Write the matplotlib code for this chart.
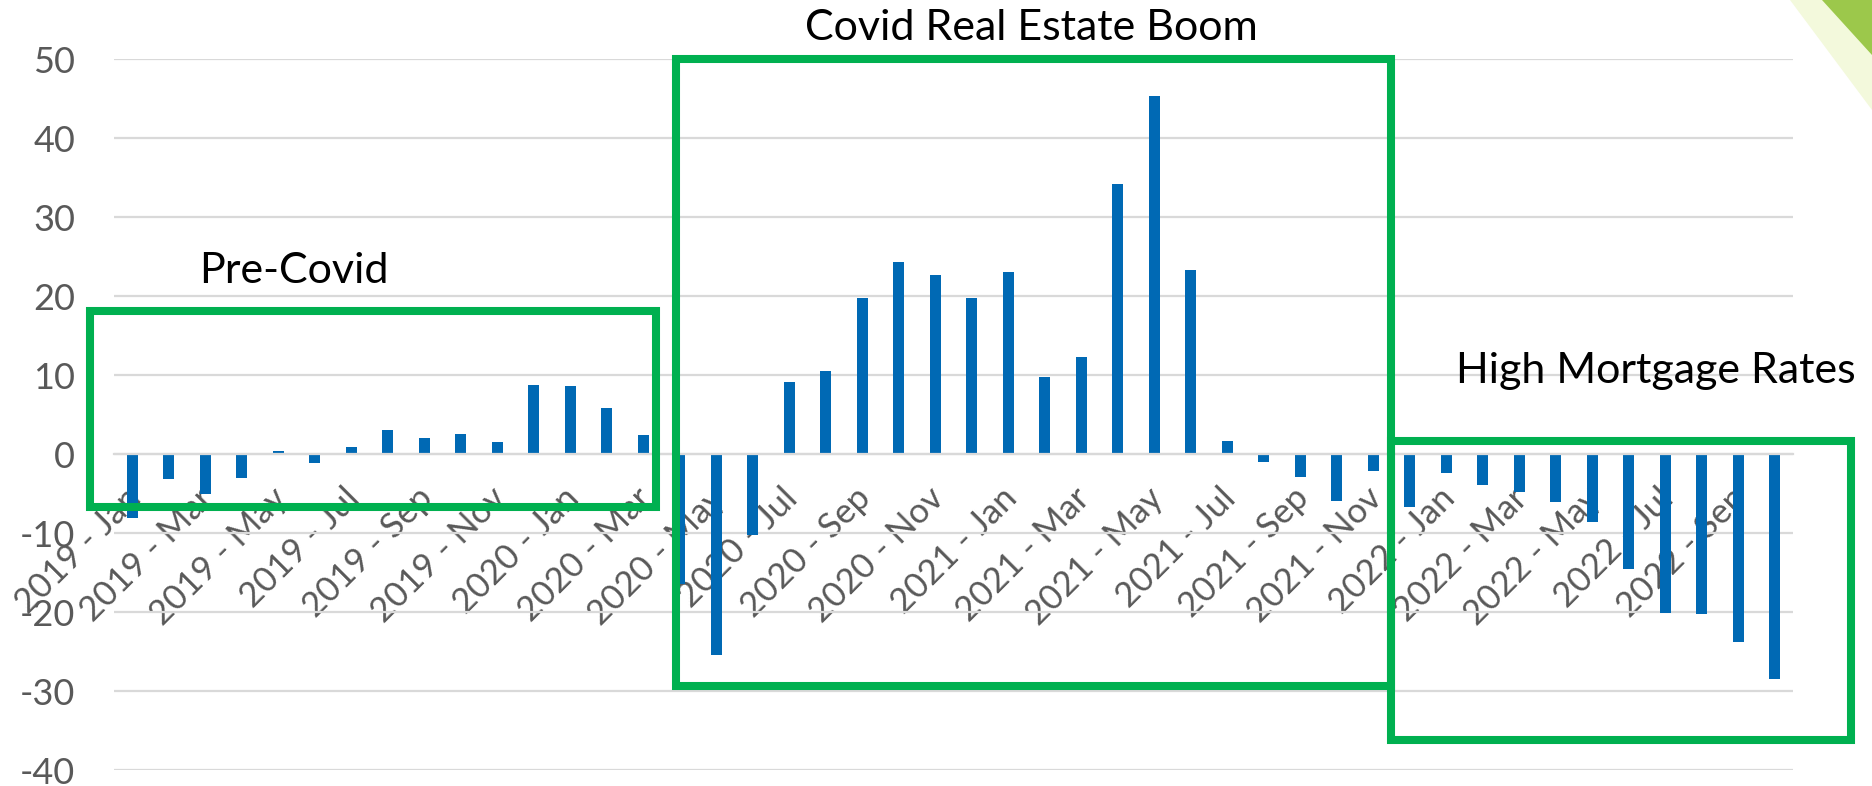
import matplotlib
matplotlib.use("Agg")
import matplotlib.pyplot as plt
import matplotlib.transforms as mtransforms
from matplotlib.patches import Rectangle, Polygon
import numpy as np

plt.rcParams['font.family'] = ['Lato', 'DejaVu Sans']
plt.rcParams['axes.unicode_minus'] = False

# month-over-month change, Jan 2019 .. Oct 2022
years = [2019] * 12 + [2020] * 12 + [2021] * 12 + [2022] * 10
month_names = ['Jan', 'Feb', 'Mar', 'Apr', 'May', 'Jun',
               'Jul', 'Aug', 'Sep', 'Oct', 'Nov', 'Dec']
months = (month_names * 4)[:46]
categories = [f'{y} - {m}' for y, m in zip(years, months)]

values = [-8.1, -3.2, -5.1, -3.0, 0.4, -1.1, 0.9, 3.0, 2.1, 2.5, 1.5, 8.8,
          8.6, 5.8, 2.4, -16.4, -25.5, -10.2, 9.1, 10.5, 19.8, 24.3, 22.7, 19.8,
          23.1, 9.8, 12.3, 34.2, 45.4, 23.3, 1.6, -1.0, -2.9, -5.9, -2.1, -6.7,
          -2.4, -3.9, -4.8, -6.0, -8.6, -14.5, -20.1, -20.3, -23.8, -28.5]

yticks = [50, 40, 30, 20, 10, 0, -10, -20, -30, -40]

# annotation boxes (x in category units, y in data units)
boxes = [(-1.15, -6.7, 14.34, 18.1),
         (14.89, -29.35, 34.49, 50.05),
         (34.49, -36.2, 47.1, 1.7)]
box_labels = [('Pre-Covid', 1.83, 21.7, 'left'),
              ('Covid Real Estate Boom', 24.63, 52.45, 'center'),
              ('High Mortgage Rates', 36.26, 8.95, 'left')]

fig = plt.figure(figsize=(18.72, 7.86), dpi=100)
ax = fig.add_axes([114 / 1872, 1 - 770 / 786, (1793 - 114) / 1872, (770 - 59.3) / 786])

x = np.arange(len(values))
ax.bar(x, values, width=0.3, color='#0069B4', zorder=2)

ax.set_xlim(-0.5, len(values) - 0.5)
ax.set_ylim(-40, 50)
ax.set_yticks(yticks)
ax.yaxis.grid(True, color='#d9d9d9', linewidth=1.6, zorder=0)
ax.set_axisbelow(True)
for s in ['top', 'right', 'left']:
    ax.spines[s].set_visible(False)
ax.spines['bottom'].set_position(('data', 0))
ax.spines['bottom'].set_color('#d9d9d9')
ax.spines['bottom'].set_linewidth(1.6)
ax.tick_params(axis='y', length=0, labelsize=26, labelcolor='#595959', pad=28)

ax.set_xticks(x[::2])
ax.set_xticklabels(categories[::2], rotation=45, ha='right', va='top',
                   rotation_mode='anchor')
ax.tick_params(axis='x', length=0, labelsize=25, labelcolor='#595959', pad=20)
offset = mtransforms.ScaledTranslation(-8 / 100, 0, fig.dpi_scale_trans)
for lab in ax.get_xticklabels():
    lab.set_transform(lab.get_transform() + offset)

for (x0, y0, x1, y1) in boxes:
    ax.add_patch(Rectangle((x0, y0), x1 - x0, y1 - y0, fill=False,
                           edgecolor='#00B050', linewidth=5.8, zorder=5,
                           clip_on=False))

for txt, tx, ty, ha in box_labels:
    ax.text(tx, ty, txt, ha=ha, va='baseline', fontsize=31, color='black',
            zorder=6)

# corner decoration from the slide
fig.patches.append(Polygon([(1790 / 1872, 1), (1, 1), (1, 1 - 110 / 786)],
                           closed=True, transform=fig.transFigure,
                           facecolor='#f3f9dc', edgecolor='none', zorder=0))
fig.patches.append(Polygon([(1822 / 1872, 1), (1, 1), (1, 1 - 55 / 786)],
                           closed=True, transform=fig.transFigure,
                           facecolor='#9cc84b', edgecolor='none', zorder=1))

fig.savefig('out.png', dpi=100)
